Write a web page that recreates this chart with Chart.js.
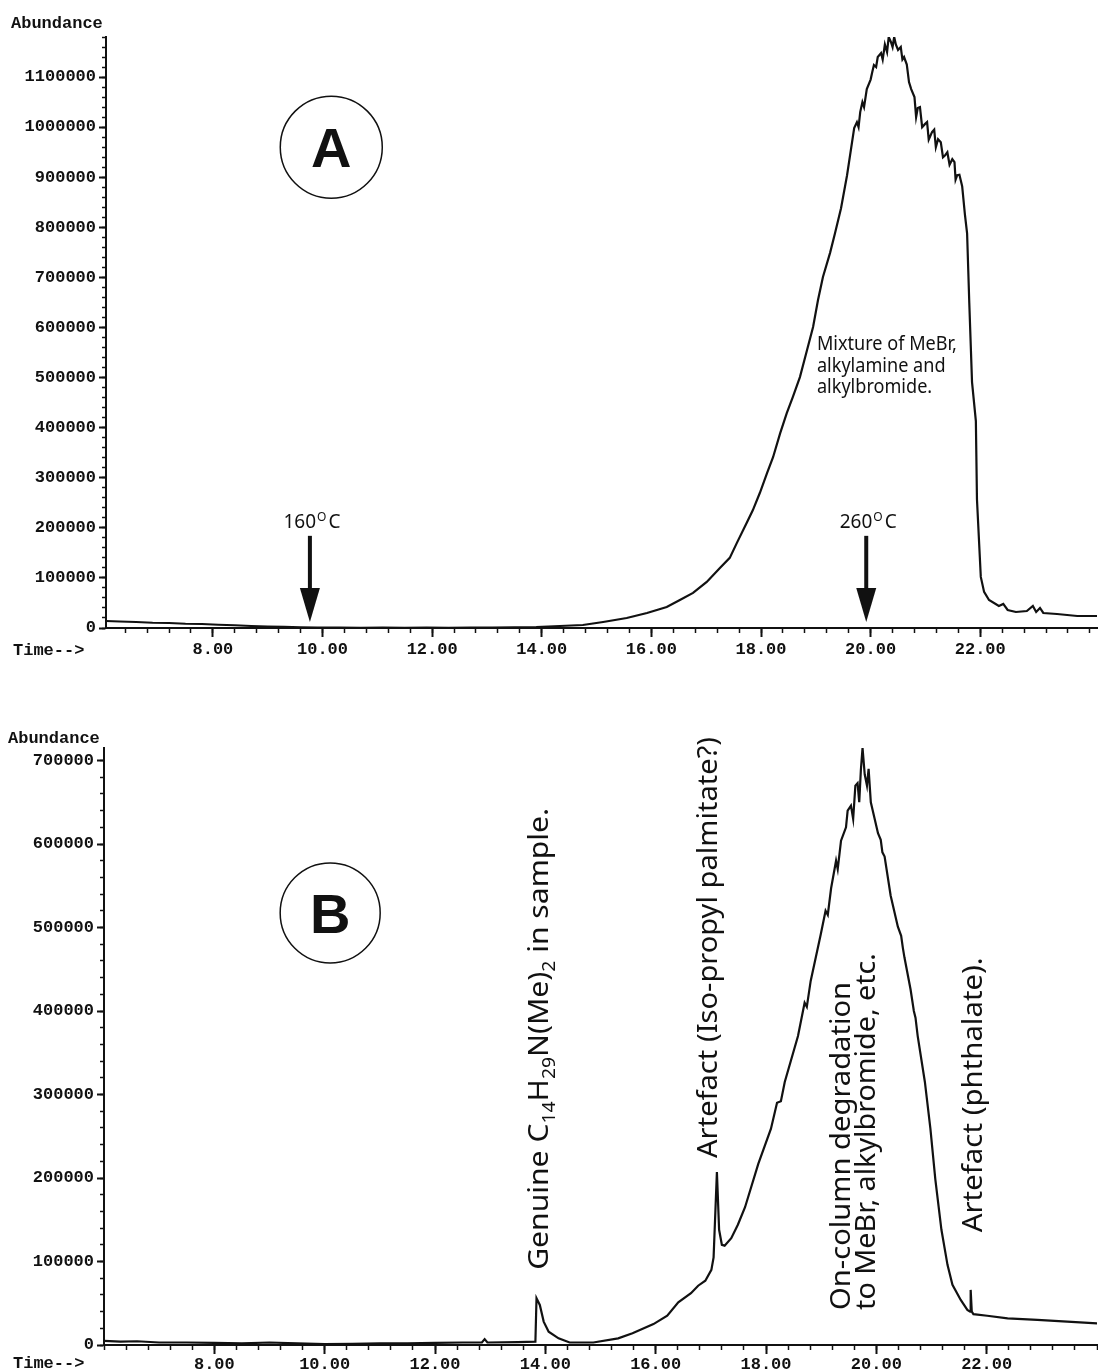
<!DOCTYPE html>
<html>
<head>
<meta charset="utf-8">
<script src="https://cdn.jsdelivr.net/npm/chart.js@4.4.1/dist/chart.umd.min.js"></script>
<style>
  html, body { margin: 0; padding: 0; background: #fff; }
  #page { position: relative; width: 1098px; height: 1372px; overflow: hidden; background: #fff; }
  canvas { position: absolute; left: 0; }
</style>
</head>
<body>
<div id="page">
  <canvas id="chartA" width="1098" height="680" style="top:0px"></canvas>
  <canvas id="chartB" width="1098" height="686" style="top:686px"></canvas>
</div>
<script>
// ---- data (time in min, abundance) ----
const timeA = [6.05, 6.30, 6.60, 6.90, 7.20, 7.50, 7.80, 8.10, 8.40, 8.70, 9.00, 9.30, 9.60, 9.90,
  10.30, 10.70, 11.10, 11.50, 11.90, 12.30, 12.70, 13.10, 13.50, 13.90, 14.33, 14.75, 15.12, 15.55,
  15.92, 16.28, 16.52, 16.76, 17.01, 17.25, 17.43, 17.56, 17.74, 17.85, 17.98, 18.11, 18.22, 18.35,
  18.47, 18.58, 18.71, 18.84, 18.95, 19.04, 19.13, 19.26, 19.35, 19.46, 19.57, 19.70, 19.75, 19.78,
  19.81, 19.85, 19.88, 19.93, 20.00, 20.03, 20.06, 20.10, 20.13, 20.19, 20.22, 20.26, 20.30, 20.33,
  20.37, 20.40, 20.43, 20.46, 20.50, 20.55, 20.58, 20.61, 20.66, 20.70, 20.74, 20.80, 20.83, 20.86,
  20.90, 20.94, 20.99, 21.03, 21.06, 21.12, 21.16, 21.19, 21.23, 21.28, 21.32, 21.36, 21.40, 21.44,
  21.49, 21.53, 21.55, 21.58, 21.62, 21.67, 21.72, 21.76, 21.80, 21.85, 21.92, 21.94, 22.01, 22.07,
  22.16, 22.34, 22.42, 22.50, 22.65, 22.85, 22.96, 23.02, 23.09, 23.15, 23.40, 23.77, 24.13];
const abundanceA = [14000, 13000, 12000, 10500, 10000, 8500, 8000, 6500, 5500, 4000, 3000, 2500, 1500, 1000,
  1000, 500, 1000, 500, 1000, 500, 1000, 1000, 1500, 2000, 4000, 6000, 12000, 20000,
  30000, 42000, 56000, 70000, 92000, 120000, 140000, 170000, 210000, 235000, 270000, 309000, 341000, 389000,
  429000, 461000, 501000, 555000, 601000, 655000, 701000, 749000, 788000, 838000, 904000, 998000, 1010000, 1000000,
  1030000, 1050000, 1040000, 1076000, 1095000, 1110000, 1124000, 1120000, 1140000, 1148000, 1135000, 1165000, 1150000, 1180000,
  1170000, 1160000, 1180000, 1165000, 1154000, 1160000, 1135000, 1140000, 1125000, 1090000, 1076000, 1060000, 1020000, 1038000,
  1040000, 1000000, 1006000, 1010000, 975000, 990000, 995000, 960000, 976000, 970000, 940000, 944000, 950000, 925000,
  936000, 930000, 895000, 904000, 905000, 882000, 826000, 788000, 649000, 491000, 413000, 257000, 102000, 72000,
  56000, 44000, 48000, 36000, 32000, 34000, 44000, 32000, 40000, 30000, 28000, 24000, 24000];

const timeB = [6.00, 6.30, 6.60, 7.00, 7.50, 8.00, 8.50, 9.00, 9.50, 10.00, 10.50, 11.00, 11.50, 12.00,
  12.50, 12.85, 12.90, 12.95, 13.50, 13.82, 13.84, 13.90, 13.97, 14.06, 14.24, 14.44, 14.87, 15.32,
  15.58, 15.96, 16.21, 16.41, 16.64, 16.77, 16.90, 17.01, 17.05, 17.08, 17.11, 17.15, 17.20, 17.25,
  17.37, 17.49, 17.62, 17.86, 18.09, 18.20, 18.27, 18.34, 18.58, 18.70, 18.74, 18.81, 18.99, 19.08,
  19.12, 19.18, 19.27, 19.30, 19.36, 19.45, 19.48, 19.54, 19.58, 19.62, 19.66, 19.69, 19.72, 19.75,
  19.79, 19.83, 19.86, 19.90, 20.03, 20.08, 20.11, 20.15, 20.26, 20.39, 20.45, 20.48, 20.51, 20.62,
  20.68, 20.71, 20.75, 20.88, 20.98, 21.07, 21.18, 21.29, 21.38, 21.53, 21.65, 21.70, 21.71, 21.73,
  21.76, 22.01, 22.38, 22.92, 23.46, 24.00];
const abundanceB = [5000, 4000, 4500, 3000, 3000, 2500, 2000, 3000, 2000, 1000, 1500, 2000, 2000, 2500,
  3000, 3000, 7000, 3000, 3500, 4000, 56000, 48000, 28000, 16000, 8000, 3000, 3000, 8000,
  14000, 25000, 35000, 51000, 62000, 71000, 77000, 90000, 105000, 156000, 207000, 138000, 120000, 119000,
  128000, 144000, 165000, 217000, 259000, 290000, 292000, 315000, 370000, 410000, 405000, 436000, 491000, 520000,
  515000, 547000, 580000, 570000, 604000, 620000, 640000, 646000, 630000, 670000, 673000, 650000, 689000, 715000,
  683000, 670000, 690000, 650000, 613000, 605000, 590000, 585000, 538000, 501000, 490000, 476000, 464000, 426000,
  400000, 392000, 370000, 315000, 259000, 198000, 138000, 96000, 72000, 54000, 42000, 40000, 66000, 40000,
  37000, 35000, 32000, 30000, 28000, 26000];

const timeTicks = [8, 10, 12, 14, 16, 18, 20, 22];
const abundanceTicksA = [0, 100000, 200000, 300000, 400000, 500000, 600000, 700000, 800000, 900000, 1000000, 1100000];
const abundanceTicksB = [0, 100000, 200000, 300000, 400000, 500000, 600000, 700000];

// annotation anchors (time, abundance)
const tempMarks = [
  { t: 9.77, label: '160', unit: 'C' },
  { t: 19.92, label: '260', unit: 'C' }
];
const notesB = [
  { t: 14.05, v: 90000, len: 462, parts: [['Genuine C'], ['14', 1], ['H'], ['29', 1], ['N(Me)'], ['2', 1], [' in sample.']] },
  { t: 17.11, v: 224000, len: 421, parts: [['Artefact (Iso-propyl palmitate?)']] },
  { t: 19.52, v: 42000, len: 328, parts: [['On-column degradation']] },
  { t: 19.97, v: 42000, len: 357, parts: [['to MeBr, alkylbromide, etc.']] },
  { t: 21.91, v: 135000, len: 275, parts: [['Artefact (phthalate).']] }
];

const MONO = '"Liberation Mono", "Courier New", monospace';
const SANS = '"Noto Sans", "DejaVu Sans", sans-serif';
const INK = '#111';

function toPoints(ts, vs) {
  return ts.map((t, i) => ({ x: t, y: vs[i] }));
}

function stepTicks(lo, hi, step) {
  const out = [];
  for (let k = Math.ceil(lo / step - 1e-9); k * step <= hi + 1e-9; k++) {
    out.push({ value: +(k * step).toFixed(4) });
  }
  return out;
}

function buildScales(cfg) {
  const tickFont = { family: MONO, size: 17, weight: 'bold' };
  return {
    x: {
      type: 'linear', axis: 'x', position: 'bottom', weight: 1,
      min: cfg.xMin, max: cfg.xMax,
      afterBuildTicks: s => { s.ticks = timeTicks.map(v => ({ value: v })); },
      afterFit: s => { s.height = cfg.xHeight; },
      grid: { drawOnChartArea: false, tickLength: 9, tickWidth: 2, tickColor: INK },
      border: { display: true, color: INK, width: 2 },
      ticks: { color: INK, padding: cfg.xPad, autoSkip: false, maxRotation: 0, font: tickFont,
        callback: v => Number(v).toFixed(2) }
    },
    xMinor: {
      type: 'linear', axis: 'x', position: 'bottom', weight: 0,
      min: cfg.xMin, max: cfg.xMax,
      afterBuildTicks: s => { s.ticks = stepTicks(cfg.xMin, cfg.xMax, 0.4); },
      afterFit: s => { s.height = 0; },
      grid: { drawOnChartArea: false, tickLength: 5, tickWidth: 1.5, tickColor: INK },
      border: { display: false },
      ticks: { display: false }
    },
    y: {
      type: 'linear', axis: 'y', position: 'left', weight: 1,
      min: 0, max: cfg.yMax,
      afterBuildTicks: s => { s.ticks = cfg.yTicks.map(v => ({ value: v })); },
      afterFit: s => { s.width = cfg.yWidth; },
      grid: { drawOnChartArea: false, tickLength: 7, tickWidth: 2, tickColor: INK },
      border: { display: true, color: INK, width: 2 },
      ticks: { color: INK, padding: 3, autoSkip: false, font: tickFont,
        callback: v => String(v) }
    },
    yMinor: {
      type: 'linear', axis: 'y', position: 'left', weight: 0,
      min: 0, max: cfg.yMax,
      afterBuildTicks: s => { s.ticks = stepTicks(0, cfg.yMax, 20000); },
      afterFit: s => { s.width = 0; },
      grid: { drawOnChartArea: false, tickLength: 4, tickWidth: 1.5, tickColor: INK },
      border: { display: false },
      ticks: { display: false }
    }
  };
}

function circleLetter(ctx, cx, cy, r, letter) {
  ctx.beginPath();
  ctx.arc(cx, cy, r, 0, Math.PI * 2);
  ctx.lineWidth = 1.5;
  ctx.stroke();
  ctx.font = 'bold 56px "Liberation Sans", Arial, sans-serif';
  ctx.textAlign = 'center';
  ctx.textBaseline = 'alphabetic';
  ctx.fillText(letter, cx, cy + 20);
}

function downArrow(ctx, x, yTop, yHead, yTip) {
  ctx.fillRect(x - 2, yTop, 4, yHead - yTop + 2);
  ctx.beginPath();
  ctx.moveTo(x - 10, yHead);
  ctx.lineTo(x + 10, yHead);
  ctx.lineTo(x, yTip);
  ctx.closePath();
  ctx.fill();
}

function tempLabel(ctx, cx, base, label, unit) {
  ctx.textAlign = 'left';
  ctx.textBaseline = 'alphabetic';
  const big = `19px ${SANS}`, small = `12px ${SANS}`;
  ctx.font = big; const w1 = ctx.measureText(label).width; const w3 = ctx.measureText(unit).width;
  ctx.font = small; const w2 = ctx.measureText('O').width;
  let x = cx - (w1 + w2 + w3 + 3) / 2;
  ctx.font = big; ctx.fillText(label, x, base); x += w1 + 1;
  ctx.font = small; ctx.fillText('O', x, base - 7); x += w2 + 2;
  ctx.font = big; ctx.fillText(unit, x, base);
}

// text that reads bottom-to-top, stretched to the length seen in the picture
function verticalText(ctx, xBase, yStart, parts, size, len) {
  ctx.save();
  ctx.translate(xBase, yStart);
  ctx.rotate(-Math.PI / 2);
  ctx.textAlign = 'left';
  ctx.textBaseline = 'alphabetic';
  const fontOf = sub => `${sub ? Math.round(size * 0.66) : size}px ${SANS}`;
  let w = 0;
  parts.forEach(([s, sub]) => { ctx.font = fontOf(sub); w += ctx.measureText(s).width; });
  ctx.scale(len / w, 1);
  let cx = 0;
  parts.forEach(([s, sub]) => {
    ctx.font = fontOf(sub);
    ctx.fillText(s, cx, sub ? size * 0.24 : 0);
    cx += ctx.measureText(s).width;
  });
  ctx.restore();
}

const notesPluginA = {
  id: 'notesA',
  afterDraw(chart) {
    const { ctx } = chart;
    const x = chart.scales.x, y = chart.scales.y;
    ctx.save();
    ctx.fillStyle = INK;
    ctx.strokeStyle = INK;
    ctx.font = `bold 17px ${MONO}`;
    ctx.textAlign = 'left';
    ctx.textBaseline = 'alphabetic';
    ctx.fillText('Abundance', 11, 28);
    ctx.fillText('Time-->', 13, 655);

    circleLetter(ctx, x.getPixelForValue(10.16), y.getPixelForValue(960000), 51, 'A');

    tempMarks.forEach(m => {
      const px = x.getPixelForValue(m.t);
      tempLabel(ctx, px + 2, y.getPixelForValue(200000), m.label, m.unit);
      downArrow(ctx, px, y.getPixelForValue(184000), y.getPixelForValue(80000), y.getPixelForValue(12000));
    });

    // label on the big hump
    const lines = ['Mixture of MeBr,', 'alkylamine and', 'alkylbromide.'];
    const left = x.getPixelForValue(19.02);
    const base = y.getPixelForValue(555000);
    ctx.font = `19px ${SANS}`;
    const sx = 140 / ctx.measureText(lines[0]).width;
    ctx.save();
    ctx.translate(left, base);
    ctx.scale(sx, 1);
    lines.forEach((s, i) => ctx.fillText(s, 0, i * 21.5));
    ctx.restore();
    ctx.restore();
  }
};

const notesPluginB = {
  id: 'notesB',
  afterDraw(chart) {
    const { ctx } = chart;
    const x = chart.scales.x, y = chart.scales.y;
    ctx.save();
    ctx.fillStyle = INK;
    ctx.strokeStyle = INK;
    ctx.font = `bold 17px ${MONO}`;
    ctx.textAlign = 'left';
    ctx.textBaseline = 'alphabetic';
    ctx.fillText('Abundance', 8, 57);
    ctx.fillText('Time-->', 13, 682);

    circleLetter(ctx, x.getPixelForValue(10.10), y.getPixelForValue(517500), 50, 'B');

    notesB.forEach(n => {
      verticalText(ctx, x.getPixelForValue(n.t), y.getPixelForValue(n.v), n.parts, 28, n.len);
    });
    ctx.restore();
  }
};

function makeChart(id, pts, cfg, plugin) {
  return new Chart(document.getElementById(id), {
    type: 'line',
    data: {
      datasets: [{
        data: pts,
        xAxisID: 'x',
        yAxisID: 'y',
        borderColor: INK,
        borderWidth: 2.2,
        pointRadius: 0,
        tension: 0,
        fill: false
      }]
    },
    options: {
      responsive: false,
      animation: false,
      events: [],
      layout: { padding: { top: cfg.padTop, right: 1, left: 0, bottom: 0 } },
      plugins: { legend: { display: false }, tooltip: { enabled: false } },
      scales: buildScales(cfg)
    },
    plugins: [plugin]
  });
}

makeChart('chartA', toPoints(timeA, abundanceA), {
  xMin: 6.05, xMax: 24.13, xHeight: 52, xPad: 3, yMax: 1180000, yTicks: abundanceTicksA, yWidth: 106, padTop: 37
}, notesPluginA);

makeChart('chartB', toPoints(timeB, abundanceB), {
  xMin: 6.0, xMax: 24.0, xHeight: 27, xPad: 1, yMax: 715000, yTicks: abundanceTicksB, yWidth: 104, padTop: 62
}, notesPluginB);
</script>
</body>
</html>
